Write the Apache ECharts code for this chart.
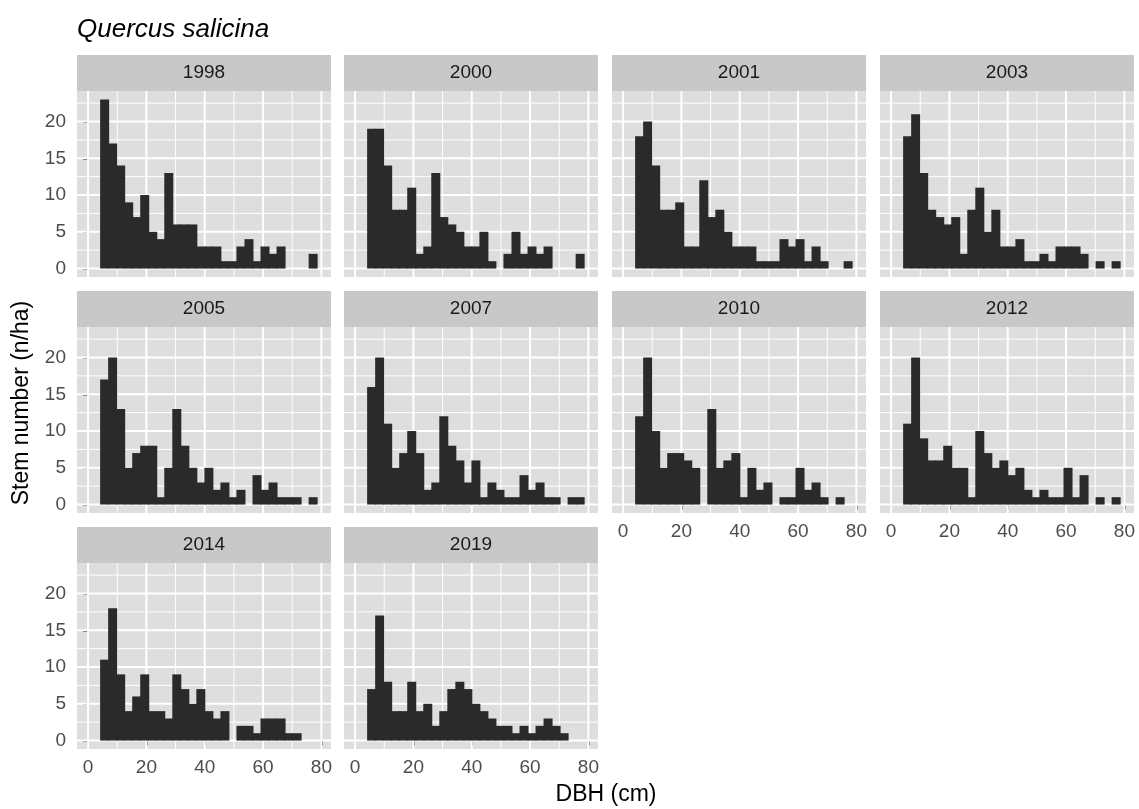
<!DOCTYPE html>
<html><head><meta charset="utf-8">
<script src="https://cdn.jsdelivr.net/npm/echarts@6/dist/echarts.min.js"></script>
<style>html,body{margin:0;padding:0;background:#fff}#c{width:1139px;height:809px}</style>
</head><body><div id="c"></div>
<script>
// ---- data ----
const YEARS = ['1998','2000','2001','2003','2005','2007','2010','2012','2014','2019'];
const C1998 = [23,17,14,9,7,10,5,4,13,6,6,6,3,3,3,1,1,3,4,1,3,2,3,0,0,0,2];
const C2000 = [19,19,14,8,8,11,2,3,13,7,6,5,3,3,5,1,0,2,5,2,3,2,3,0,0,0,2];
const C2001 = [18,20,14,8,8,9,3,3,12,7,8,5,3,3,3,1,1,1,4,3,4,1,3,1,0,0,1];
const C2003 = [18,21,13,8,7,6,7,2,8,11,5,8,3,3,4,1,1,2,1,3,3,3,2,0,1,0,1];
const C2005 = [17,20,13,5,7,8,8,1,5,13,8,5,3,5,2,3,1,2,0,4,2,3,1,1,1,0,1];
const C2007 = [16,20,11,5,7,10,7,2,3,12,8,6,3,6,1,3,2,1,1,4,2,3,1,1,0,1,1];
const C2010 = [12,20,10,5,7,7,6,5,0,13,5,6,7,1,5,2,3,0,1,1,5,2,3,1,0,1,0];
const C2012 = [11,20,9,6,6,8,5,5,1,10,7,5,6,4,5,2,1,2,1,1,5,1,4,0,1,0,1];
const C2014 = [11,18,9,4,6,9,4,4,3,9,7,5,7,4,3,4,0,2,2,1,3,3,3,1,1,0,0];
const C2019 = [7,17,8,4,4,8,4,5,2,4,7,8,7,5,4,3,2,2,1,2,1,2,3,2,1,0,0];
const COUNTS = [C1998,C2000,C2001,C2003,C2005,C2007,C2010,C2012,C2014,C2019];
const BIN_START = 4.3;   // cm, left edge of first bin
const BIN_WIDTH = 2.75;  // cm
const X_MAJOR = [0,20,40,60,80];
const X_MINOR = [10,30,50,70];
const Y_MAJOR = [0,5,10,15,20];
const Y_MINOR = [2.5,7.5,12.5,17.5,22.5];
const X_RANGE = [-3.8, 83.3];
const Y_RANGE = [-1.15, 24.15];

// ---- layout ----
const FONT = 'Liberation Sans, Arial, Helvetica, sans-serif';
const COL_LEFT = [77, 344, 612, 880];
const ROW_TOP = [91, 327, 563];
const PANEL_W = 254, PANEL_H = 186, STRIP_H = 36;
const PANEL_BG = '#DEDEDE', STRIP_BG = '#C8C8C8', BAR = '#2A2A2A';

const grids = [], xAxes = [], yAxes = [], series = [], graphics = [];
YEARS.forEach((yr, i) => {
  const r = Math.floor(i / 4), c = i % 4;
  const left = COL_LEFT[c], top = ROW_TOP[r];
  grids.push({left: left, top: top, width: PANEL_W, height: PANEL_H,
    show: true, backgroundColor: PANEL_BG, borderWidth: 0, containLabel: false});
  const showX = (i >= 6);
  const showY = (c === 0);
  xAxes.push({type: 'value', gridIndex: i, min: X_RANGE[0], max: X_RANGE[1],
    axisLine: {show: false}, splitLine: {show: false},
    axisTick: {show: showX, length: 5, customValues: X_MAJOR, lineStyle: {color: '#333333', width: 1.5}},
    axisLabel: {show: showX, customValues: X_MAJOR, margin: 9, color: '#4D4D4D', fontSize: 19, fontFamily: FONT}});
  yAxes.push({type: 'value', gridIndex: i, min: Y_RANGE[0], max: Y_RANGE[1],
    axisLine: {show: false}, splitLine: {show: false},
    axisTick: {show: showY, length: 5, customValues: Y_MAJOR, lineStyle: {color: '#333333', width: 1.5}},
    axisLabel: {show: showY, customValues: Y_MAJOR, margin: 11, color: '#4D4D4D', fontSize: 19, fontFamily: FONT}});
  // grid lines
  series.push({type: 'custom', xAxisIndex: i, yAxisIndex: i, z: 1, silent: true,
    data: [[0, 0]],
    renderItem: function (params, api) {
      const cs = params.coordSys;
      const children = [];
      const vline = (v, w) => { const px = api.coord([v, 0])[0];
        children.push({type: 'line', shape: {x1: px, y1: cs.y, x2: px, y2: cs.y + cs.height},
          style: {stroke: '#FFFFFF', lineWidth: w}}); };
      const hline = (v, w) => { const py = api.coord([0, v])[1];
        children.push({type: 'line', shape: {x1: cs.x, y1: py, x2: cs.x + cs.width, y2: py},
          style: {stroke: '#FFFFFF', lineWidth: w}}); };
      X_MINOR.forEach(v => vline(v, 1)); Y_MINOR.forEach(v => hline(v, 1));
      X_MAJOR.forEach(v => vline(v, 2)); Y_MAJOR.forEach(v => hline(v, 2));
      return {type: 'group', children: children};
    }});
  // histogram bars
  const data = [];
  COUNTS[i].forEach((n, k) => {
    if (n > 0) data.push([BIN_START + k * BIN_WIDTH, BIN_START + (k + 1) * BIN_WIDTH, n]);
  });
  series.push({type: 'custom', xAxisIndex: i, yAxisIndex: i, z: 2, silent: true,
    data: data, encode: {x: [0, 1], y: 2},
    renderItem: function (params, api) {
      const p0 = api.coord([api.value(0), 0]);
      const p1 = api.coord([api.value(1), api.value(2)]);
      return {type: 'rect', shape: {x: p0[0] - 0.5, y: p1[1], width: p1[0] - p0[0] + 1, height: p0[1] - p1[1]},
        style: {fill: BAR, stroke: null}};
    }});
  // strip
  graphics.push({type: 'rect', left: left, top: top - STRIP_H, z: 0,
    shape: {width: PANEL_W, height: STRIP_H}, style: {fill: STRIP_BG}});
  graphics.push({type: 'text', x: left + PANEL_W / 2, y: top - STRIP_H / 2, z: 1,
    style: {text: yr, fill: '#1A1A1A', font: '19px ' + FONT, textAlign: 'center', textVerticalAlign: 'middle'}});
});
graphics.push({type: 'text', x: 22, y: 403, rotation: Math.PI / 2,
  style: {text: 'Stem number (n/ha)', fill: '#000000', font: '23px ' + FONT, textAlign: 'center', textVerticalAlign: 'middle'}});
graphics.push({type: 'text', x: 606, y: 795,
  style: {text: 'DBH (cm)', fill: '#000000', font: '23px ' + FONT, textAlign: 'center', textVerticalAlign: 'middle'}});

const chart = echarts.init(document.getElementById('c'), null, {renderer: 'canvas'});
chart.setOption({
  animation: false,
  backgroundColor: '#FFFFFF',
  title: {text: 'Quercus salicina', left: 77, top: 17, padding: 0,
    textStyle: {fontStyle: 'italic', fontWeight: 'normal', fontSize: 26, color: '#000000', fontFamily: FONT}},
  grid: grids, xAxis: xAxes, yAxis: yAxes, series: series, graphic: graphics
});
</script></body></html>
